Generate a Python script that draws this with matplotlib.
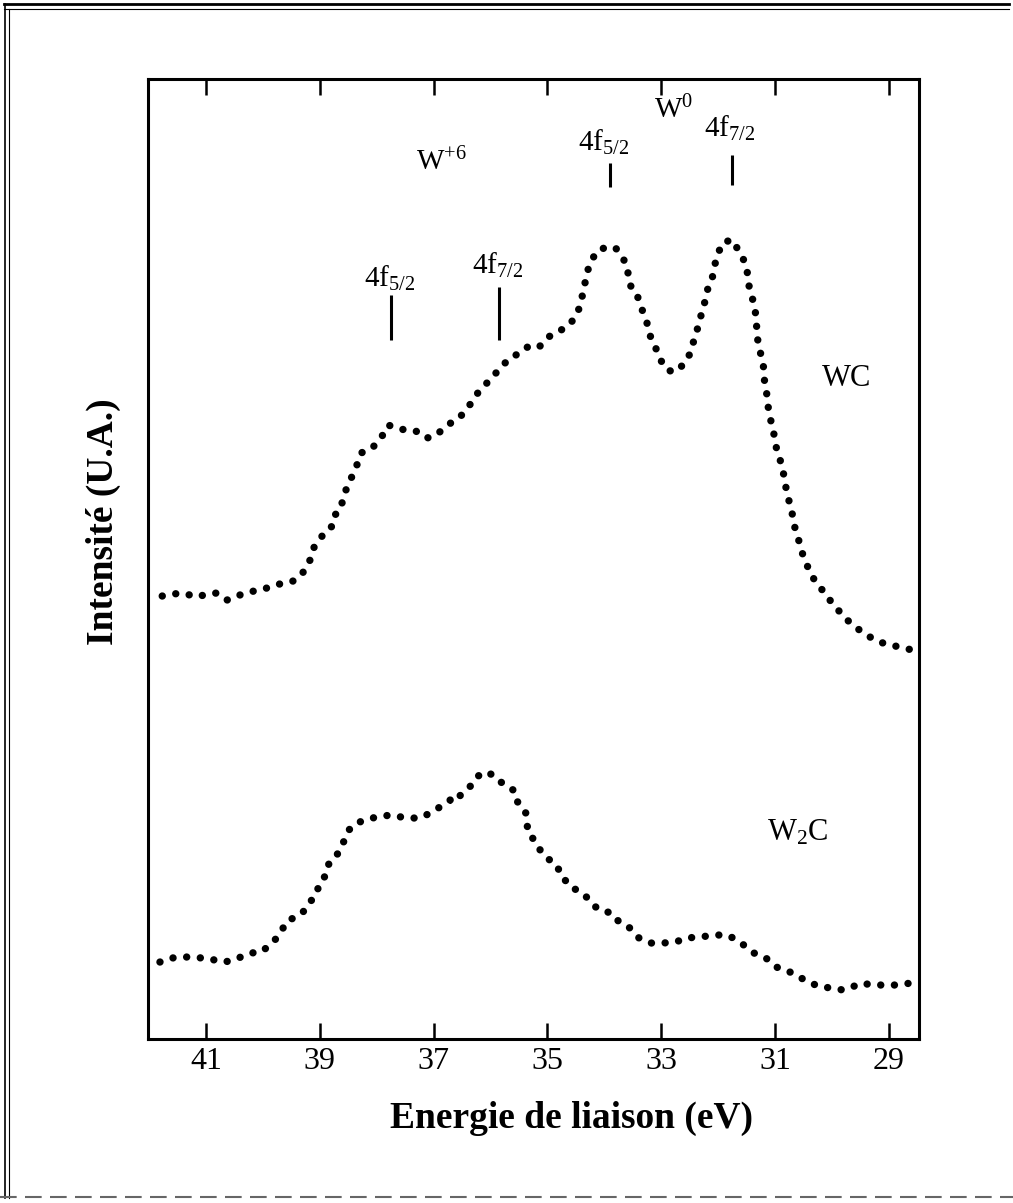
import matplotlib
matplotlib.use("Agg")
import matplotlib.pyplot as plt
from matplotlib.lines import Line2D

plt.rcParams['font.family'] = ['Liberation Serif', 'DejaVu Serif']
plt.rcParams['mathtext.fontset'] = 'custom'
plt.rcParams['mathtext.rm'] = 'Liberation Serif'
plt.rcParams['mathtext.it'] = 'Liberation Serif:italic'
plt.rcParams['mathtext.bf'] = 'Liberation Serif:bold'

# WC spectrum: binding energy (eV) / intensity (arbitrary units)
wc_ev = [41.77, 41.58, 41.41, 41.16, 40.98, 40.81, 40.63, 40.47, 40.28, 40.10,
         39.93, 39.77, 39.58, 39.47, 39.31, 39.24, 39.16, 39.10, 38.96, 38.80,
         38.77, 38.63, 38.59, 38.52, 38.44, 38.36, 38.28, 38.10, 37.98, 37.87,
         37.80, 37.64, 37.50, 37.31, 37.22, 37.08, 36.94, 36.85, 36.70, 36.55,
         36.45, 36.34, 36.19, 36.01, 35.83, 35.66, 35.45, 35.31, 35.13, 35.01,
         34.87, 34.69, 34.59, 34.48, 34.43, 34.38, 34.34, 34.29, 34.22, 34.15,
         33.97, 33.80, 33.69, 33.60, 33.58, 33.55, 33.43, 33.39, 33.32, 33.25,
         33.22, 33.11, 33.07, 32.99, 32.90, 32.76, 32.58, 32.49, 32.44, 32.37,
         32.32, 32.27, 32.21, 32.18, 32.11, 32.06, 32.00, 31.91, 31.74, 31.65,
         31.53, 31.49, 31.48, 31.44, 31.39, 31.35, 31.33, 31.32, 31.30, 31.26,
         31.21, 31.19, 31.18, 31.14, 31.12, 31.09, 31.04, 31.00, 30.97, 30.91,
         30.86, 30.83, 30.79, 30.75, 30.70, 30.67, 30.61, 30.56, 30.51, 30.44,
         30.35, 30.25, 30.12, 30.00, 29.89, 29.77, 29.63, 29.47, 29.33, 29.16,
         28.98, 28.80, 28.59]
wc_int = [443, 445, 446, 442, 445, 446, 439, 443, 446, 449,
          451, 454, 457, 458, 465, 473, 480, 492, 503, 511,
          522, 530, 542, 552, 562, 572, 586, 590, 597, 606,
          614, 611, 609, 608, 603, 601, 605, 609, 616, 621,
          628, 636, 649, 659, 671, 681, 687, 694, 693, 701,
          706, 711, 716, 725, 733, 745, 756, 769, 778, 787,
          792, 791, 782, 774, 764, 754, 746, 737, 727, 716,
          706, 694, 686, 677, 669, 667, 676, 686, 696, 709,
          719, 731, 741, 751, 759, 774, 786, 797, 799, 789,
          777, 769, 759, 749, 739, 729, 719, 709, 697, 687,
          676, 664, 652, 644, 632, 622, 611, 599, 589, 579,
          569, 557, 547, 537, 526, 515, 504, 494, 484, 474,
          463, 454, 446, 436, 429, 421, 414, 407, 402, 397,
          394, 392, 389]

# W2C spectrum
w2c_ev = [41.81, 41.60, 41.42, 41.25, 41.07, 40.91, 40.74, 40.56, 40.39, 40.21,
          40.03, 39.88, 39.79, 39.70, 39.56, 39.40, 39.26, 39.17, 39.05, 39.02,
          38.87, 38.84, 38.70, 38.61, 38.54, 38.49, 38.36, 38.19, 38.01, 37.75,
          37.57, 37.42, 37.24, 37.06, 36.89, 36.71, 36.62, 36.50, 36.33, 36.24,
          36.12, 35.94, 35.82, 35.64, 35.55, 35.52, 35.38, 35.36, 35.34, 35.20,
          35.11, 34.96, 34.81, 34.80, 34.69, 34.60, 34.48, 34.34, 34.25, 34.09,
          33.87, 33.74, 33.57, 33.39, 33.18, 32.97, 32.74, 32.58, 32.32, 32.06,
          31.84, 31.67, 31.55, 31.37, 31.16, 30.98, 30.81, 30.63, 30.42, 30.19,
          29.98, 29.81, 29.65, 29.47, 29.30, 29.09, 28.86, 28.61]
w2c_int = [77, 81, 82, 82, 81, 80, 77, 78, 82, 86,
           87, 94, 99, 106, 119, 122, 129, 137, 146, 154,
           166, 176, 184, 194, 202, 209, 216, 219, 222, 224,
           222, 221, 221, 226, 232, 239, 237, 246, 254, 262,
           267, 264, 257, 251, 246, 236, 226, 216, 206, 197,
           187, 179, 172, 167, 159, 152, 149, 144, 137, 129,
           126, 117, 112, 101, 96, 96, 97, 101, 102, 104,
           104, 99, 94, 86, 81, 72, 69, 64, 57, 52,
           51, 49, 52, 56, 54, 54, 54, 56]

xticks = [41, 39, 37, 35, 33, 31, 29]

# peak position markers (W+6 4f5/2, 4f7/2 ; W0 4f5/2, 4f7/2)
marker_ev = [37.75, 35.85, 33.90, 31.76]
marker_lo = [699, 699, 852, 854]
marker_hi = [744, 752, 876, 884]

fig = plt.figure(figsize=(10.13, 12.03), dpi=100)
ax = fig.add_axes([0.1461, 0.1363, 0.7611, 0.7980])

dots = dict(color='black', lw=5.3, linestyle=(0, (0.01, 1.85)),
            dash_capstyle='round')
ax.plot(wc_ev, wc_int, **dots)
ax.plot(w2c_ev, w2c_int, **dots)
ax.vlines(marker_ev, marker_lo, marker_hi, color='black', lw=2.2)

ax.set_xlim(42.02, 28.47)
ax.set_ylim(0, 960)
ax.set_xticks(xticks)
ax.set_xticklabels([str(t) for t in xticks], fontsize=23)
ax.set_yticks([])
ax.tick_params(axis='x', direction='in', top=True, bottom=True,
               length=11.5, width=1.8, pad=6)
for s in ax.spines.values():
    s.set_linewidth(2.2)

# annotations
fs = 21
ax.text(36.87, 877, r'W$^{+6}$', fontsize=fs, ha='center', va='center')
ax.text(34.01, 897, r'4f$_{5/2}$', fontsize=fs, ha='center', va='center')
ax.text(32.79, 929, r'W$^{0}$', fontsize=fs, ha='center', va='center')
ax.text(31.79, 911, r'4f$_{7/2}$', fontsize=fs, ha='center', va='center')
ax.text(37.77, 761, r'4f$_{5/2}$', fontsize=fs, ha='center', va='center')
ax.text(35.87, 774, r'4f$_{7/2}$', fontsize=fs, ha='center', va='center')
ax.text(29.75, 661, 'WC', fontsize=22, ha='center', va='center')
ax.text(30.60, 206, r'W$_2$C', fontsize=22, ha='center', va='center')

fig.text(0.5637, 0.0707, 'Energie de liaison (eV)', fontsize=27,
         fontweight='bold', ha='center', va='center')
fig.text(0.1017, 0.5661, 'Intensité (U.A.)', fontsize=27,
         fontweight='bold', ha='center', va='center', rotation=90)

# scanned page frame
fig.add_artist(Line2D([0.004, 0.996], [0.9967, 0.9967], color='black', lw=2))
fig.add_artist(Line2D([0.004, 0.996], [0.9925, 0.9925], color='black', lw=0.8))
fig.add_artist(Line2D([0.005, 0.005], [0.004, 0.9967], color='black', lw=1.2))
fig.add_artist(Line2D([0.009, 0.009], [0.004, 0.9925], color='black', lw=0.8))
fig.add_artist(Line2D([0.0, 1.0], [0.005, 0.005], color='0.4', lw=1.5,
                      linestyle=(0, (8, 4))))

fig.savefig('out.png', dpi=100)
